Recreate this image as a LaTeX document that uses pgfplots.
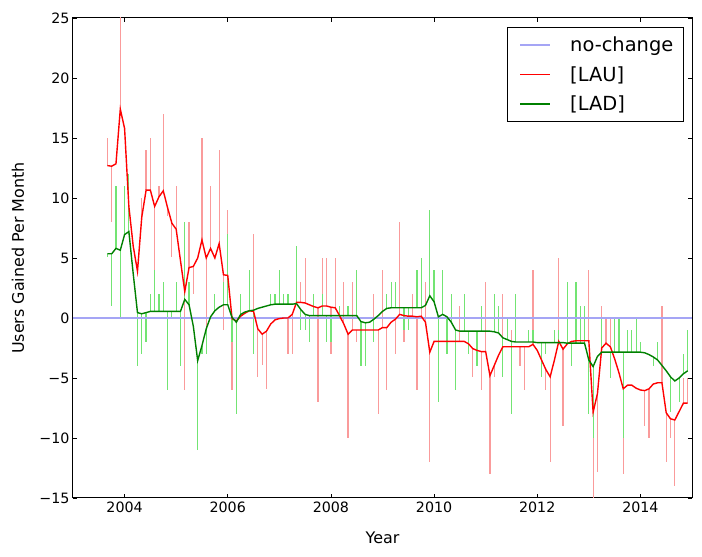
\documentclass[border=0pt]{standalone}
\usepackage{fontspec}
\setmainfont{DejaVu Sans}
\usepackage{pgfplots}
\usepackage{pgfplotstable}
\pgfplotsset{compat=1.18}
\definecolor{nochg}{RGB}{165,165,245}
\definecolor{barred}{RGB}{250,155,155}
\definecolor{bargreen}{RGB}{115,228,115}
\definecolor{ladgreen}{RGB}{0,128,0}
\definecolor{laured}{RGB}{255,0,0}
\pgfplotstableread{
t L R G D
2003.667 12.7 15 5.35 5.1
2003.750 12.65 8 5.35 1.0
2003.833 12.85 12.85 5.8 11
2003.917 17.4 26 5.65 0
2004.000 15.8 16 6.95 11
2004.083 9.3 9.3 7.2 12
2004.167 6.0 6.0 3.7 3.7
2004.250 3.9 3.9 0.45 -4
2004.333 8.4 10 0.35 -3
2004.417 10.65 14 0.45 -2
2004.500 10.65 15 0.55 2
2004.583 9.3 1 0.55 4
2004.667 10.1 11 0.55 2
2004.750 10.6 17 0.55 3
2004.833 9.2 8.5 0.55 -6
2004.917 7.9 5.1 0.55 0
2005.000 7.4 11 0.55 3
2005.083 4.8 4.8 0.55 -4
2005.167 2.2 -6 1.55 8
2005.250 4.2 8 1.1 3
2005.333 4.3 2 -0.7 -0.7
2005.417 5.0 5.0 -3.55 -11
2005.500 6.5 15 -2.3 -3
2005.583 5.0 -3 -0.9 -3
2005.667 5.8 11 0.1 0.1
2005.750 5.0 5.0 0.6 2
2005.833 6.2 14 0.9 0.9
2005.917 3.6 -1 1.1 3
2006.000 3.55 9 1.1 7
2006.083 -0.05 -6 0.05 -2
2006.167 -0.25 -0.25 -0.35 -8
2006.250 0.15 0.15 0.3 2
2006.333 0.4 0.4 0.5 0.5
2006.417 0.6 0.6 0.6 4
2006.500 0.55 7 0.65 -3
2006.583 -0.9 -4.9 0.8 0.8
2006.667 -1.35 -3.9 0.9 0.9
2006.750 -1.1 -5.9 1.0 1.0
2006.833 -0.5 -0.5 1.1 2
2006.917 -0.15 -0.15 1.15 2
2007.000 -0.05 -0.05 1.15 4
2007.083 0 0 1.15 2
2007.167 0 -3 1.15 2
2007.250 0.3 -3 1.15 1.15
2007.333 1.3 1.3 1.2 6
2007.417 1.3 3 0.7 -1
2007.500 1.25 5 0.3 -1
2007.583 1.1 1.1 0.2 -2
2007.667 0.95 0.95 0.2 2
2007.750 0.85 -7 0.2 0.2
2007.833 1.0 5 0.2 2
2007.917 1.0 5 0.2 -2
2008.000 0.9 -3 0.2 -2
2008.083 0.85 5 0.2 0.2
2008.167 0.2 0.2 0.2 1
2008.250 -0.5 3 0.2 0.2
2008.333 -1.35 -10 0.2 1
2008.417 -1.0 3 0.2 0.2
2008.500 -1.0 -2 0.2 4
2008.583 -1.0 -1.0 -0.3 -4
2008.667 -1.0 -1.0 -0.4 -4
2008.750 -1.0 -1.0 -0.35 -0.35
2008.833 -1.0 2 -0.1 -2
2008.917 -1.0 -8 0.2 0.2
2009.000 -0.8 4 0.55 0.55
2009.083 -0.8 -6 0.8 2
2009.167 -0.35 -0.35 0.85 3
2009.250 -0.1 -3 0.85 3
2009.333 0.3 8 0.85 0.85
2009.417 0.2 -2 0.85 -1
2009.500 0.15 0.15 0.85 -1
2009.583 0.15 2 0.85 0.85
2009.667 0.1 -6 0.85 4
2009.750 0.15 5 0.85 5
2009.833 -0.35 3 1.05 1.05
2009.917 -2.85 -12 1.85 9
2010.000 -1.95 -1.95 1.35 4
2010.083 -1.95 -1.95 0.1 -7
2010.167 -1.95 -1.95 0.3 4
2010.250 -1.95 -3 0.1 -3
2010.333 -1.95 -1.95 -0.35 2
2010.417 -1.95 -1.95 -1.0 -6
2010.500 -1.95 1 -1.1 -1.1
2010.583 -1.95 -1.95 -1.1 2
2010.667 -2.15 -2.15 -1.1 -3
2010.750 -2.55 -4.9 -1.1 -1.1
2010.833 -2.7 -2.7 -1.1 -4
2010.917 -2.8 -6 -1.1 1
2011.000 -2.8 3 -1.1 -1.1
2011.083 -4.8 -13 -1.1 -1.1
2011.167 -3.95 -4.9 -1.15 2
2011.250 -3.1 -3.1 -1.25 1
2011.333 -2.4 2 -1.65 -4.9
2011.417 -2.4 -2.4 -1.8 0
2011.500 -2.4 -1 -1.95 -8
2011.583 -2.4 -2.4 -2.0 2
2011.667 -2.4 -4 -2.0 -2.0
2011.750 -2.4 -6 -2.0 -2.0
2011.833 -2.4 -2.4 -2.0 -1
2011.917 -2.2 4 -2.0 -1
2012.000 -2.7 -2.7 -2.05 -2.05
2012.083 -3.5 -3.5 -2.05 -4.9
2012.167 -4.3 -6 -2.05 -3
2012.250 -4.9 -12 -2.05 -2.05
2012.333 -3.5 -3.5 -2.05 -1
2012.417 -1.95 5 -2.05 -1
2012.500 -2.6 -9 -2.05 -2.05
2012.583 -2.15 -2.15 -2.1 3
2012.667 -1.95 -1.95 -2.1 -4
2012.750 -1.9 3 -2.1 3
2012.833 -1.9 -1.9 -2.1 1
2012.917 -1.9 -1.9 -2.1 1
2013.000 -1.9 4 -3.5 -8
2013.083 -7.85 -16 -4.05 -10
2013.167 -6.3 -12.8 -3.2 -3.2
2013.250 -2.5 1 -2.85 0
2013.333 -2.1 0 -2.85 -2.85
2013.417 -2.4 0 -2.85 -5
2013.500 -3.4 -3.4 -2.85 0
2013.583 -4.55 -4.55 -2.85 0
2013.667 -5.9 -13 -2.85 -10
2013.750 -5.6 -5.6 -2.85 -1
2013.833 -5.6 -5.6 -2.85 -1
2013.917 -5.85 -5.85 -2.85 0
2014.000 -6.0 -6.0 -2.85 -2
2014.083 -6.05 -9 -2.9 -2.9
2014.167 -5.9 -10 -3.05 -3.05
2014.250 -5.5 -5.5 -3.25 -4
2014.333 -5.4 -5.4 -3.5 -2
2014.417 -5.4 1 -3.95 -3.95
2014.500 -7.9 -12 -4.4 -4.4
2014.583 -8.4 -10 -4.9 -7.8
2014.667 -8.5 -14 -5.25 -5.25
2014.750 -7.8 -7.8 -5.0 -7
2014.833 -7.1 -5 -4.65 -3
2014.917 -7.1 -5 -4.4 -1
}\data
\begin{document}
\begin{tikzpicture}
\begin{axis}[
  scale only axis,
  width=619bp, height=480bp,
  xmin=2003, xmax=2015, ymin=-15, ymax=25,
  xtick={2004,2006,2008,2010,2012,2014},
  xticklabels={2004,2006,2008,2010,2012,2014},
  ytick={-15,-10,-5,0,5,10,15,20,25},
  yticklabels={−15,−10,−5,0,5,10,15,20,25},
  minor tick num=0,
  tick align=inside,
  major tick length=4bp,
  tick style={black, line width=0.8bp},
  axis line style={black, line width=1bp},
  tick label style={font=\fontsize{14.3}{16}\selectfont},
  /pgf/number format/assume math mode=true,
  xlabel={Year}, ylabel={Users Gained Per Month},
  every axis x label/.style={at={(axis description cs:0.5,0)}, yshift=-40bp, anchor=center, font=\fontsize{16}{19}\selectfont},
  every axis y label/.style={at={(axis description cs:0,0.5)}, xshift=-55bp, rotate=90, anchor=center, font=\fontsize{16}{19}\selectfont},
]
\coordinate (O) at (rel axis cs:0,0);
\coordinate (TL) at (rel axis cs:0,1);
\addplot[draw=none, mark=none, forget plot, error bars/.cd, y dir=both, y explicit, error mark=none,
  error bar style={draw=barred, solid, line width=1.2bp}]
  table[x=t, y=L, y error plus expr={max(\thisrow{R}-\thisrow{L},0)}, y error minus expr={max(\thisrow{L}-\thisrow{R},0)}] {\data};
\addplot[draw=none, mark=none, forget plot, error bars/.cd, y dir=both, y explicit, error mark=none,
  error bar style={draw=bargreen, solid, line width=1.2bp}]
  table[x=t, y=G, y error plus expr={max(\thisrow{D}-\thisrow{G},0)}, y error minus expr={max(\thisrow{G}-\thisrow{D},0)}] {\data};
\addplot[draw=nochg, line width=1.2bp, mark=none, forget plot] coordinates {(2003,0) (2015,0)};
\addplot[draw=laured, line width=1.4bp, mark=none, forget plot] table[x=t, y=L] {\data};
\addplot[draw=ladgreen, line width=1.4bp, mark=none, forget plot] table[x=t, y=G] {\data};
\end{axis}
\begin{scope}[shift={(TL)}]
  \filldraw[fill=white, draw=black, line width=1bp] (434bp,-10bp) rectangle (610bp,-104bp);
  \draw[draw=nochg, line width=1.3bp] (447bp,-27bp) -- (477bp,-27bp);
  \draw[draw=laured, line width=1.3bp] (447bp,-56.5bp) -- (477bp,-56.5bp);
  \draw[draw=ladgreen, line width=1.3bp] (447bp,-86bp) -- (477bp,-86bp);
  \node[anchor=base west, inner sep=0pt, font=\fontsize{19.5}{23}\selectfont] at (497bp,-34bp) {no-change};
  \node[anchor=base west, inner sep=0pt, font=\fontsize{19.5}{23}\selectfont] at (497bp,-63.5bp) {[LAU]};
  \node[anchor=base west, inner sep=0pt, font=\fontsize{19.5}{23}\selectfont] at (497bp,-93bp) {[LAD]};
\end{scope}
\path (O) ++(-73bp,-59bp) rectangle ++(702bp,557bp);
\end{tikzpicture}
\end{document}
